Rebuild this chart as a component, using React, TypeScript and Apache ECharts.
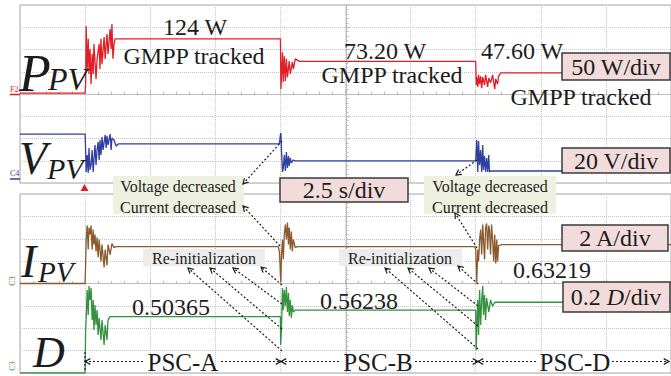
import React, { useEffect, useRef } from "react";
import * as echarts from "echarts";

// ---- time axis: 10 divisions, 2.5 s/div ----
const TIME_MAX = 25;
const TIME_STEP = 2.5;

// ---- channel scales (per division) ----
const P_SCALE = { min: -200, max: 200, step: 50 }; // 50 W/div
const V_SCALE = { min: 0, max: 160, step: 20 }; // 20 V/div
const I_SCALE = { min: -8, max: 8, step: 2 }; // 2 A/div
const D_SCALE = { min: 0, max: 1.6, step: 0.2 }; // 0.2 D/div

// ---- traces [time s, value] ----
const P_TRACE: number[][] = [
  [0, 2], [2.5, 2], [2.52, 22], [2.54, 153], [2.58, 56], [2.62, 124], [2.65, 45], [2.69, 101],
  [2.73, 22], [2.77, 90], [2.81, 45], [2.84, 112], [2.92, 34], [2.96, 79], [3.04, 112], [3.07, 56],
  [3.11, 124], [3.15, 67], [3.23, 128], [3.27, 79], [3.34, 135], [3.38, 90], [3.46, 146], [3.5, 101],
  [3.53, 157], [3.57, 79], [3.61, 112], [3.65, 124], [10, 124],
  [10.02, 11], [10.08, 94], [10.11, 27], [10.15, 85], [10.19, 29], [10.23, 79], [10.27, 38], [10.34, 74],
  [10.38, 45], [10.46, 72], [10.5, 56], [10.57, 79], [10.73, 73.2], [17.5, 73.2],
  [17.52, 20], [17.54, 38], [17.58, 16], [17.61, 43], [17.65, 22], [17.69, 40], [17.73, 13], [17.77, 38],
  [17.84, 20], [17.88, 43], [17.96, 16], [18.0, 36], [18.07, 25], [18.15, 43], [18.23, 11], [18.27, 34],
  [18.34, 22], [18.38, 40], [18.46, 47.6], [25, 47.6],
];

const V_TRACE: number[][] = [
  [0, 44], [2.5, 44], [2.52, 29.7], [2.54, 9.9], [2.58, 25.2], [2.62, 9.0], [2.65, 31.5], [2.69, 11.7],
  [2.73, 16.2], [2.77, 29.7], [2.81, 9.9], [2.84, 20.7], [2.88, 34.2], [2.92, 16.2], [2.96, 29.7],
  [3.0, 36.9], [3.04, 20.7], [3.07, 38.7], [3.11, 25.2], [3.15, 41.4], [3.19, 29.7], [3.27, 43.2],
  [3.31, 31.5], [3.34, 42.3], [3.38, 34.2], [3.46, 44.0], [3.5, 29.7], [3.53, 40.5], [3.61, 38.7],
  [3.69, 33.3], [3.77, 35.1], [9.96, 35.1],
  [10.0, 43.2], [10.02, 45], [10.04, 29.7], [10.08, 9.9], [10.11, 13.5], [10.15, 25.2], [10.19, 10.8],
  [10.23, 27.9], [10.27, 13.5], [10.31, 24.3], [10.34, 15.3], [10.38, 22.5], [10.42, 18.0], [10.5, 20.7],
  [10.57, 19.8], [17.5, 19.8],
  [17.54, 38.7], [17.58, 9.9], [17.61, 37.8], [17.65, 16.2], [17.69, 29.7], [17.73, 9.9], [17.77, 34.2],
  [17.8, 11.7], [17.84, 24.3], [17.88, 9.9], [17.92, 22.5], [17.96, 9.9], [18.0, 25.2], [18.03, 9.9],
  [18.07, 10.8], [25, 10.8],
];

const I_TRACE: number[][] = [
  [0, 0], [2.5, 0], [2.52, 1.7], [2.54, 3.93], [2.58, 5.18], [2.62, 3.04], [2.65, 5.0], [2.69, 4.38],
  [2.73, 5.18], [2.77, 3.04], [2.81, 4.82], [2.84, 3.48], [2.88, 4.38], [2.92, 2.86], [2.96, 4.11],
  [3.0, 2.32], [3.04, 3.93], [3.11, 1.96], [3.15, 3.48], [3.23, 1.43], [3.27, 3.04], [3.34, 1.61],
  [3.38, 3.48], [3.46, 2.59], [3.53, 3.57], [3.61, 3.21], [3.69, 3.3], [9.92, 3.3],
  [9.96, 2.86], [9.98, 1.96], [10.0, 0.8], [10.02, 0.09], [10.04, 2.59], [10.08, 3.93], [10.11, 2.14],
  [10.15, 4.38], [10.19, 5.27], [10.23, 3.93], [10.27, 5.45], [10.31, 3.48], [10.34, 5.0], [10.38, 3.04],
  [10.42, 4.64], [10.46, 2.86], [10.5, 3.93], [10.57, 3.21], [10.65, 3.3], [17.46, 3.3],
  [17.5, 3.04], [17.52, 1.7], [17.54, 0.09], [17.58, 3.04], [17.61, 1.96], [17.65, 3.93], [17.69, 4.82],
  [17.73, 2.59], [17.77, 5.27], [17.8, 3.93], [17.84, 2.14], [17.88, 5.0], [17.92, 5.36], [17.96, 3.04],
  [18.0, 5.18], [18.03, 4.82], [18.07, 2.59], [18.11, 5.27], [18.15, 3.93], [18.19, 1.96], [18.23, 4.38],
  [18.27, 1.79], [18.31, 3.93], [18.34, 1.96], [18.38, 3.39], [18.5, 3.48], [25, 3.48],
];

const D_TRACE: number[][] = [
  [0, 0], [2.5, 0], [2.52, 0.384], [2.54, 0.473], [2.58, 0.741], [2.62, 0.518], [2.65, 0.777],
  [2.69, 0.652], [2.73, 0.759], [2.77, 0.473], [2.81, 0.652], [2.84, 0.384], [2.88, 0.607],
  [2.92, 0.429], [2.96, 0.563], [3.0, 0.339], [3.04, 0.491], [3.11, 0.295], [3.15, 0.473],
  [3.23, 0.25], [3.27, 0.429], [3.34, 0.295], [3.38, 0.473], [3.46, 0.50365], [10.0, 0.50365],
  [10.01, 0.25], [10.04, 0.384], [10.08, 0.759], [10.11, 0.563], [10.15, 0.741], [10.19, 0.598],
  [10.23, 0.768], [10.27, 0.545], [10.31, 0.714], [10.34, 0.509], [10.38, 0.652], [10.42, 0.491],
  [10.46, 0.607], [10.5, 0.545], [10.57, 0.56238], [17.5, 0.56238],
  [17.52, 0.205], [17.54, 0.384], [17.58, 0.652], [17.61, 0.339], [17.65, 0.741], [17.69, 0.429],
  [17.73, 0.652], [17.77, 0.777], [17.8, 0.518], [17.84, 0.697], [17.88, 0.473], [17.92, 0.67],
  [18.0, 0.545], [18.07, 0.652], [18.15, 0.598], [18.23, 0.63219], [25, 0.63219],
];

// ---- annotation texts ----
const POWER_LABELS = ["124 W", "73.20 W", "47.60 W"];
const GMPP_LABEL = "GMPP tracked";
const DUTY_LABELS = ["0.50365", "0.56238", "0.63219"];
const PSC_LABELS = ["PSC-A", "PSC-B", "PSC-D"];
const SCALE_LABELS = ["50 W/div", "20 V/div", "2.5 s/div", "2 A/div"];

const SERIF = '"Liberation Serif", "Times New Roman", serif';
const INK = "#1c1c1c";
const RED = "#e31d25";
const BLUE = "#2f3f9f";
const BROWN = "#8b5a2e";
const GREEN = "#33913f";

function txt(text: string, x: number, y: number, size: number, opts: any = {}) {
  return {
    type: "text",
    x,
    y,
    z: 100,
    rotation: opts.rotation || 0,
    style: {
      text,
      fontSize: size,
      fontFamily: SERIF,
      fontStyle: opts.italic ? "italic" : "normal",
      fill: opts.fill || INK,
      align: opts.align || "center",
      verticalAlign: "middle",
    },
  };
}

function box(x: number, y: number, w: number, h: number, fill: string, stroke?: string) {
  return {
    type: "rect",
    z: 99,
    shape: { x, y, width: w, height: h },
    style: { fill, stroke: stroke || null, lineWidth: stroke ? 1.5 : 0 },
  };
}

function dotted(x1: number, y1: number, x2: number, y2: number) {
  return {
    type: "line",
    z: 100,
    shape: { x1, y1, x2, y2 },
    style: { stroke: INK, lineWidth: 1.2, lineDash: [2, 2] },
  };
}

function head(x1: number, y1: number, x2: number, y2: number, len = 6) {
  const a = Math.atan2(y2 - y1, x2 - x1);
  const s = 0.5;
  return {
    type: "polyline",
    z: 100,
    shape: {
      points: [
        [x2 - len * Math.cos(a - s), y2 - len * Math.sin(a - s)],
        [x2, y2],
        [x2 - len * Math.cos(a + s), y2 - len * Math.sin(a + s)],
      ],
    },
    style: { stroke: INK, lineWidth: 1.2, fill: null },
  };
}

function arrow(x1: number, y1: number, x2: number, y2: number) {
  return [dotted(x1, y1, x2, y2), head(x1, y1, x2, y2)];
}

export default function App() {
  const ref = useRef<HTMLDivElement>(null);

  useEffect(() => {
    if (!ref.current) return;
    const chart = echarts.init(ref.current, undefined, { renderer: "svg" });

    const gridLine = { color: "#c6c6c6", type: "dotted" as const, width: 1 };
    const centerLine = { color: "#bdbdbd", width: 1 };

    const xAxes = [0, 1].map((g) => ({
      type: "value",
      gridIndex: g,
      min: 0,
      max: TIME_MAX,
      interval: TIME_STEP,
      axisLabel: { show: false },
      axisLine: { show: true, onZero: true, onZeroAxisIndex: g === 0 ? 0 : 2, lineStyle: centerLine },
      axisTick: { show: true, inside: true, length: 4, lineStyle: centerLine },
      minorTick: { show: true, splitNumber: 5, length: 2.5, lineStyle: centerLine },
      splitLine: { show: true, lineStyle: gridLine },
    }));

    const chanAxis = (g: number, sc: any, grid: boolean) => ({
      type: "value",
      gridIndex: g,
      min: sc.min,
      max: sc.max,
      interval: sc.step,
      position: "left",
      offset: grid ? 0 : -326,
      axisLabel: { show: false },
      axisLine: { show: !grid, onZero: false, lineStyle: centerLine },
      axisTick: { show: !grid, inside: true, length: 4, lineStyle: centerLine },
      minorTick: { show: !grid, splitNumber: 5, length: 2.5, lineStyle: centerLine },
      splitLine: { show: grid, lineStyle: gridLine },
    });

    const line = (x: number, y: number, data: number[][], color: string) => ({
      type: "line",
      xAxisIndex: x,
      yAxisIndex: y,
      data,
      showSymbol: false,
      symbol: "none",
      z: 5,
      lineStyle: { color, width: 1.3 },
      itemStyle: { color },
    });

    const g: any[] = [];
    // big channel names
    g.push(txt("P", 19, 73, 52, { italic: true, align: "left" }));
    g.push(txt("PV", 48, 79, 32, { italic: true, align: "left" }));
    g.push(txt("V", 19, 158, 46, { italic: true, align: "left" }));
    g.push(txt("PV", 47, 168, 30, { italic: true, align: "left" }));
    g.push(txt("I", 21, 261, 46, { italic: true, align: "left" }));
    g.push(txt("PV", 38, 272, 29, { italic: true, align: "left" }));
    g.push(txt("D", 33, 352, 44, { italic: true, align: "left" }));

    // channel ground markers
    g.push(txt("F2", 10, 89, 8, { fill: RED, align: "left" }));
    g.push({ type: "line", z: 100, shape: { x1: 10, y1: 94.5, x2: 20, y2: 94.5 }, style: { stroke: RED, lineWidth: 1.5 } });
    g.push(txt("C4", 10, 173, 8, { fill: BLUE, align: "left" }));
    g.push({ type: "line", z: 100, shape: { x1: 10, y1: 179, x2: 20, y2: 179 }, style: { stroke: BLUE, lineWidth: 1.5 } });
    g.push(txt("C3", 12, 281, 8, { fill: BROWN, rotation: Math.PI / 2 }));
    g.push(txt("C3", 12, 366, 8, { fill: GREEN, rotation: Math.PI / 2 }));
    // trigger marker
    g.push({ type: "polygon", z: 100, shape: { points: [[80.5, 191], [88.5, 191], [84.5, 184]] }, style: { fill: RED } });

    // power values and GMPP labels
    g.push(txt(POWER_LABELS[0], 195, 27, 24));
    g.push(txt(GMPP_LABEL, 194, 56, 24));
    g.push(txt(POWER_LABELS[1], 385, 51, 24));
    g.push(txt(GMPP_LABEL, 392, 75, 24));
    g.push(txt(POWER_LABELS[2], 522, 51, 24));
    g.push(txt(GMPP_LABEL, 581, 97, 24));

    // duty values
    g.push(txt(DUTY_LABELS[0], 171, 307, 24));
    g.push(txt(DUTY_LABELS[1], 359, 301, 24));
    g.push(txt(DUTY_LABELS[2], 552, 270, 24));

    // scale boxes
    const PINK = "#f2dcdb";
    const EDGE = "#3a3a3a";
    g.push(box(562, 53, 108, 27, PINK, EDGE));
    g.push(txt(SCALE_LABELS[0], 616, 67, 24));
    g.push(box(562, 148, 108, 25, PINK, EDGE));
    g.push(txt(SCALE_LABELS[1], 616, 161, 24));
    g.push(box(280, 178, 128, 24, PINK, EDGE));
    g.push(txt(SCALE_LABELS[2], 344, 190, 24));
    g.push(box(562, 225, 106, 26, PINK, EDGE));
    g.push(txt(SCALE_LABELS[3], 615, 238, 24));
    g.push(box(563, 282, 107, 30, PINK, EDGE));
    g.push({
      type: "text",
      x: 616,
      y: 297,
      z: 100,
      style: {
        text: "{n|0.2 }{i|D}{n|/div}",
        align: "center",
        verticalAlign: "middle",
        rich: {
          n: { fontSize: 24, fontFamily: SERIF, fill: INK },
          i: { fontSize: 24, fontFamily: SERIF, fontStyle: "italic", fill: INK },
        },
      },
    });

    // decrease notes
    const NOTE = "#eef1df";
    g.push(box(113, 176, 131, 38, NOTE));
    g.push(txt("Voltage decreased", 178, 186, 16));
    g.push(txt("Current decreased", 178, 207, 16));
    g.push(box(424, 176, 132, 38, NOTE));
    g.push(txt("Voltage decreased", 490, 186, 16));
    g.push(txt("Current decreased", 490, 207, 16));

    // re-initialization notes
    const GREY = "#ececec";
    g.push(box(143, 249, 122, 17, GREY));
    g.push(txt("Re-initialization", 204, 258, 16));
    g.push(box(339, 249, 123, 17, GREY));
    g.push(txt("Re-initialization", 400, 258, 16));

    // arrows
    g.push(...arrow(282, 141, 243, 184));
    g.push(...arrow(280, 246, 243, 206));
    g.push(...arrow(477, 160, 456, 175));
    g.push(...arrow(477, 248, 455, 213));
    g.push(...arrow(282, 351, 188, 268));
    g.push(...arrow(282, 329, 210, 268));
    g.push(...arrow(282, 304, 233, 268));
    g.push(...arrow(282, 285, 261, 267));
    g.push(...arrow(478, 349, 385, 268));
    g.push(...arrow(478, 326, 408, 268));
    g.push(...arrow(478, 306, 429, 268));
    g.push(...arrow(478, 284, 458, 266));

    // PSC interval line
    const yP = 361.5;
    const segs = [[85, 145], [221, 281], [281, 341], [415, 478], [478, 538], [612, 669]];
    segs.forEach(([a, b]) => g.push(dotted(a, yP, b, yP)));
    g.push(head(95, yP, 85, yP));
    g.push(head(270, yP, 281, yP));
    g.push(head(292, yP, 281, yP));
    g.push(head(467, yP, 478, yP));
    g.push(head(489, yP, 478, yP));
    g.push(head(660, yP, 669, yP));
    g.push(dotted(85, 352, 85, 372));
    g.push(txt(PSC_LABELS[0], 183, 362, 25));
    g.push(txt(PSC_LABELS[1], 378, 362, 25));
    g.push(txt(PSC_LABELS[2], 575, 362, 25));

    chart.setOption({
      animation: false,
      backgroundColor: "#ffffff",
      grid: [
        { left: 20, top: 5, width: 652, height: 178, show: true, borderColor: "#a9a9a9", borderWidth: 1, backgroundColor: "transparent" },
        { left: 20, top: 194, width: 652, height: 179, show: true, borderColor: "#a9a9a9", borderWidth: 1, backgroundColor: "transparent" },
      ],
      xAxis: xAxes,
      yAxis: [chanAxis(0, P_SCALE, true), chanAxis(0, V_SCALE, false), chanAxis(1, I_SCALE, true), chanAxis(1, D_SCALE, false)],
      series: [
        line(0, 0, P_TRACE, RED),
        line(0, 1, V_TRACE, BLUE),
        line(1, 2, I_TRACE, BROWN),
        line(1, 3, D_TRACE, GREEN),
      ],
      graphic: { elements: g },
    });

    return () => chart.dispose();
  }, []);

  return (
    <div
      ref={ref}
      style={{ position: "absolute", left: 0, top: 0, width: 671, height: 376, background: "#fff" }}
    />
  );
}
